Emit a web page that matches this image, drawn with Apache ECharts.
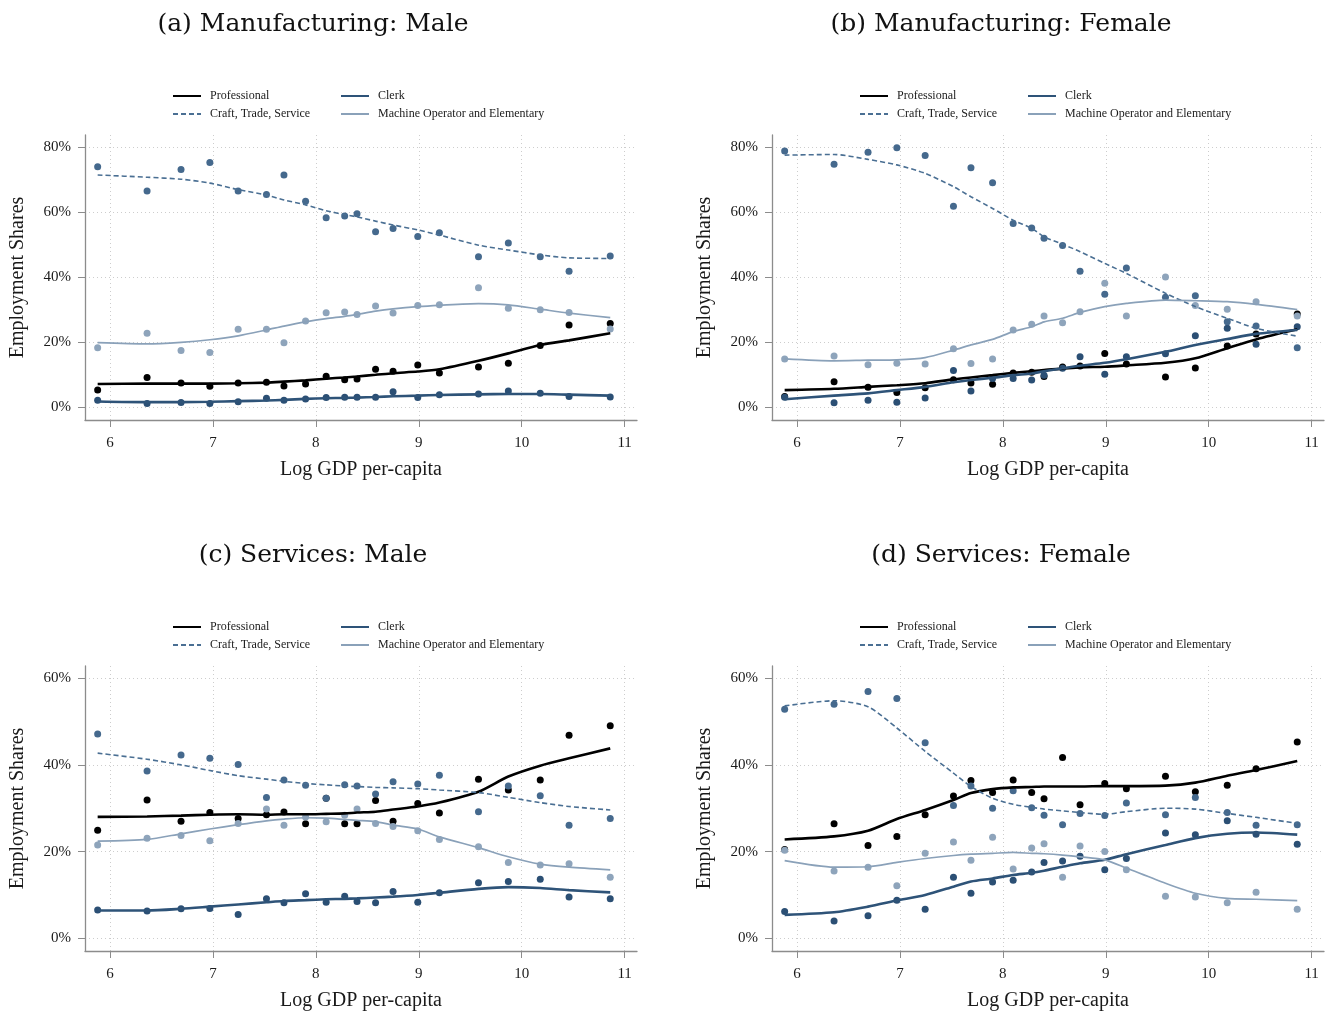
<!DOCTYPE html>
<html>
<head>
<meta charset="utf-8">
<script src="https://cdn.jsdelivr.net/npm/echarts@6/dist/echarts.min.js"></script>
<style>
  html, body { margin: 0; padding: 0; background: #ffffff; }
  #chart { width: 1334px; height: 1012px; }
</style>
</head>
<body>
<div id="chart"></div>
<script>
// Log GDP per-capita bins (shared by all four panels)
const logGdp = [5.88, 6.36, 6.69, 6.97, 7.245, 7.52, 7.69, 7.90, 8.10, 8.28, 8.40, 8.58, 8.75, 8.99, 9.20, 9.58, 9.87, 10.18, 10.46, 10.86];

// Axis ticks
const xTickValues = [6, 7, 8, 9, 10, 11];
const yTicksManufacturing = [0, 20, 40, 60, 80];
const yTicksServices = [0, 20, 40, 60];

// Occupation groups
const occupations = ['Professional', 'Clerk', 'Craft, Trade, Service', 'Machine Operator and Elementary'];

// (a) Manufacturing: Male — employment shares (%) and lowess fits
const mfgMaleProfessional = [5.3, 9.2, 7.5, 6.5, 7.5, 7.7, 6.6, 7.2, 9.6, 8.5, 8.7, 11.7, 11.1, 13.0, 10.6, 12.4, 13.6, 19.0, 25.3, 25.8];
const mfgMaleProfessionalFit = [7.2, 7.3, 7.3, 7.3, 7.4, 7.6, 7.9, 8.3, 8.8, 9.2, 9.5, 10.0, 10.5, 11.0, 11.7, 14.3, 16.6, 19.2, 20.6, 22.8];
const mfgMaleClerk = [2.2, 1.2, 1.5, 1.2, 1.7, 2.8, 2.2, 2.6, 3.0, 3.1, 3.1, 3.1, 4.8, 3.0, 3.9, 4.1, 5.0, 4.3, 3.3, 3.2];
const mfgMaleClerkFit = [1.8, 1.6, 1.6, 1.7, 1.9, 2.1, 2.3, 2.6, 2.8, 2.9, 3.0, 3.2, 3.4, 3.6, 3.8, 4.0, 4.1, 4.1, 3.9, 3.6];
const mfgMaleCraft = [74.0, 66.6, 73.2, 75.3, 66.6, 65.5, 71.5, 63.4, 58.3, 58.9, 59.6, 54.0, 55.0, 52.6, 53.7, 46.3, 50.6, 46.3, 41.9, 46.6];
const mfgMaleCraftFit = [71.5, 70.8, 70.2, 69.0, 67.0, 65.3, 63.8, 62.3, 60.5, 59.3, 58.6, 57.3, 56.1, 54.6, 53.0, 49.9, 48.4, 46.9, 46.0, 45.8];
const mfgMaleMachine = [18.3, 22.8, 17.5, 16.9, 24.0, 24.0, 19.9, 26.6, 29.1, 29.3, 28.6, 31.2, 29.0, 31.3, 31.6, 36.8, 30.5, 30.0, 29.2, 24.1];
const mfgMaleMachineFit = [19.9, 19.5, 20.0, 20.8, 22.0, 23.8, 25.0, 26.3, 27.3, 28.0, 28.6, 29.6, 30.3, 31.0, 31.4, 31.9, 31.5, 30.2, 29.0, 27.6];

// (b) Manufacturing: Female
const mfgFemaleProfessional = [3.3, 7.9, 6.2, 4.6, 6.0, 8.5, 7.5, 7.1, 10.6, 10.8, 9.5, 12.4, 12.7, 16.6, 13.3, 9.3, 12.1, 18.9, 22.6, 28.7];
const mfgFemaleProfessionalFit = [5.3, 5.7, 6.3, 6.8, 7.4, 8.6, 9.2, 9.9, 10.6, 11.1, 11.5, 11.9, 12.3, 12.5, 12.9, 13.7, 15.1, 18.2, 20.9, 24.0];
const mfgFemaleClerk = [3.1, 1.4, 2.2, 1.6, 2.9, 11.3, 5.0, 8.9, 8.9, 8.4, 9.9, 12.0, 15.6, 10.2, 15.6, 16.5, 22.0, 24.3, 19.4, 24.8];
const mfgFemaleClerkFit = [2.5, 3.6, 4.3, 5.3, 6.3, 7.7, 8.4, 9.1, 9.9, 10.4, 11.1, 12.0, 12.8, 13.7, 14.8, 17.1, 19.2, 21.0, 22.6, 23.8];
const mfgFemaleCraft = [78.9, 74.8, 78.5, 79.9, 77.5, 61.9, 73.7, 69.1, 56.6, 55.2, 52.0, 49.8, 41.9, 34.8, 42.9, 33.9, 34.3, 26.3, 25.0, 18.3];
const mfgFemaleCraftFit = [77.6, 77.8, 76.3, 74.6, 72.0, 67.9, 64.8, 61.2, 57.6, 55.1, 52.5, 50.2, 47.9, 44.3, 41.2, 35.1, 31.0, 27.4, 24.3, 21.9];
const mfgFemaleMachine = [14.9, 15.8, 13.1, 13.6, 13.3, 18.0, 13.5, 14.9, 23.8, 25.6, 28.1, 26.0, 29.4, 38.2, 28.1, 40.1, 31.3, 30.2, 32.5, 28.1];
const mfgFemaleMachineFit = [14.9, 14.3, 14.5, 14.6, 15.3, 17.6, 19.2, 20.9, 23.3, 24.8, 26.3, 27.4, 29.2, 31.0, 32.0, 33.0, 32.8, 32.5, 31.7, 30.1];

// (c) Services: Male
const svcMaleProfessional = [24.9, 31.9, 27.0, 29.0, 27.6, 28.5, 29.1, 26.4, 32.3, 26.4, 26.4, 31.8, 27.0, 31.1, 28.9, 36.7, 34.2, 36.5, 46.8, 49.0];
const svcMaleProfessionalFit = [28.0, 28.1, 28.3, 28.5, 28.6, 28.5, 28.6, 28.6, 28.7, 28.8, 29.0, 29.2, 29.7, 30.4, 31.3, 33.8, 37.3, 39.8, 41.5, 43.8];
const svcMaleClerk = [6.5, 6.3, 6.8, 6.9, 5.5, 9.1, 8.2, 10.3, 8.3, 9.7, 8.5, 8.2, 10.8, 8.3, 10.5, 12.8, 13.1, 13.6, 9.5, 9.1];
const svcMaleClerkFit = [6.4, 6.4, 6.8, 7.3, 7.8, 8.3, 8.6, 8.8, 9.0, 9.1, 9.2, 9.4, 9.6, 10.0, 10.5, 11.4, 11.8, 11.6, 11.1, 10.6];
const svcMaleCraft = [47.1, 38.6, 42.3, 41.5, 40.1, 32.5, 36.5, 35.3, 32.3, 35.4, 35.1, 33.3, 36.1, 35.6, 37.6, 29.2, 35.1, 32.9, 26.1, 27.6];
const svcMaleCraftFit = [42.7, 41.3, 40.0, 38.7, 37.5, 36.7, 36.2, 35.7, 35.4, 35.1, 35.0, 34.8, 34.7, 34.5, 34.2, 33.6, 32.5, 31.3, 30.4, 29.6];
const svcMaleMachine = [21.5, 23.1, 23.7, 22.5, 26.5, 29.8, 26.1, 28.0, 26.9, 28.4, 29.8, 26.5, 25.8, 24.8, 22.8, 21.1, 17.5, 16.9, 17.2, 14.1];
const svcMaleMachineFit = [22.4, 22.8, 24.1, 25.2, 26.2, 27.1, 27.5, 27.8, 27.7, 27.4, 27.2, 26.9, 26.1, 25.2, 23.4, 20.9, 18.8, 17.1, 16.4, 15.8];

// (d) Services: Female
const svcFemaleProfessional = [20.5, 26.4, 21.4, 23.5, 28.5, 32.8, 36.4, 33.6, 36.5, 33.6, 32.2, 41.7, 30.8, 35.7, 34.5, 37.4, 33.8, 35.3, 39.1, 45.3];
const svcFemaleProfessionalFit = [22.8, 23.5, 24.8, 27.5, 29.6, 31.9, 33.5, 34.4, 34.8, 34.9, 35.0, 35.0, 35.0, 35.1, 35.1, 35.2, 35.9, 37.5, 38.8, 40.9];
const svcFemaleClerk = [6.2, 4.0, 5.2, 8.8, 6.7, 14.1, 10.4, 13.0, 13.4, 15.3, 17.5, 17.8, 18.9, 15.8, 18.4, 24.3, 23.9, 27.1, 24.0, 21.7];
const svcFemaleClerkFit = [5.4, 6.0, 7.3, 8.7, 10.0, 11.9, 13.1, 13.8, 14.6, 15.1, 15.6, 16.5, 17.3, 18.1, 19.4, 21.5, 23.1, 24.1, 24.4, 23.9];
const svcFemaleCraft = [52.8, 54.0, 56.9, 55.3, 45.1, 30.6, 35.1, 30.0, 34.0, 30.1, 28.4, 26.2, 28.8, 28.3, 31.2, 28.5, 32.5, 29.0, 26.1, 26.2];
const svcFemaleCraftFit = [53.6, 54.8, 53.4, 48.5, 43.1, 38.1, 35.0, 32.3, 30.9, 30.2, 29.8, 29.4, 29.0, 28.6, 29.2, 30.0, 29.8, 28.8, 27.9, 26.5];
const svcFemaleMachine = [20.3, 15.5, 16.4, 12.1, 19.6, 22.2, 18.0, 23.3, 16.0, 20.8, 21.8, 14.1, 21.3, 20.0, 15.8, 9.7, 9.5, 8.2, 10.6, 6.7];
const svcFemaleMachineFit = [17.9, 16.4, 16.5, 17.5, 18.4, 19.1, 19.4, 19.6, 19.8, 19.6, 19.5, 19.2, 18.8, 18.1, 16.2, 12.7, 10.4, 9.2, 9.0, 8.7];

// Panel definitions
const panels = [
  { title: '(a) Manufacturing: Male', yTicks: yTicksManufacturing,
    obs: [mfgMaleProfessional, mfgMaleClerk, mfgMaleCraft, mfgMaleMachine],
    fit: [mfgMaleProfessionalFit, mfgMaleClerkFit, mfgMaleCraftFit, mfgMaleMachineFit] },
  { title: '(b) Manufacturing: Female', yTicks: yTicksManufacturing,
    obs: [mfgFemaleProfessional, mfgFemaleClerk, mfgFemaleCraft, mfgFemaleMachine],
    fit: [mfgFemaleProfessionalFit, mfgFemaleClerkFit, mfgFemaleCraftFit, mfgFemaleMachineFit] },
  { title: '(c) Services: Male', yTicks: yTicksServices,
    obs: [svcMaleProfessional, svcMaleClerk, svcMaleCraft, svcMaleMachine],
    fit: [svcMaleProfessionalFit, svcMaleClerkFit, svcMaleCraftFit, svcMaleMachineFit] },
  { title: '(d) Services: Female', yTicks: yTicksServices,
    obs: [svcFemaleProfessional, svcFemaleClerk, svcFemaleCraft, svcFemaleMachine],
    fit: [svcFemaleProfessionalFit, svcFemaleClerkFit, svcFemaleCraftFit, svcFemaleMachineFit] }
];

// Styling
const SERIF = '"Liberation Serif", "Times New Roman", serif';
const TITLE_FONT = '"DejaVu Serif", serif';
const AXIS_COLOR = '#8c8c8c';
const GRID_COLOR = '#cdcdcd';
const dotColors = ['#000000', '#2b4f74', '#45698d', '#8ea4bb'];
const lineStyles = [
  { color: '#000000', width: 2.6, type: 'solid' },
  { color: '#2e5378', width: 2.6, type: 'solid' },
  { color: '#4a6f93', width: 1.6, type: [5, 3] },
  { color: '#8aa1b9', width: 1.7, type: 'solid' }
];

// Layout of the 2x2 panels
const gridBoxes = [
  { left: 85, top: 135 }, { left: 772, top: 135 },
  { left: 85, top: 666 }, { left: 772, top: 666 }
];
const GRID_W = 552, GRID_H = 285;
const X_MIN = 5.757, X_MAX = 11.12;
const yRanges = [[-3.9, 83.8], [-3.9, 83.8], [-2.93, 62.8], [-2.93, 62.8]];
const titleCenters = [[308, 7], [996, 7], [308, 538], [996, 538]];
const legendPos = [[172, 90], [859, 90], [172, 621], [859, 621]];

const pair = (xs, ys) => xs.map((x, i) => [x, ys[i]]);

const option = {
  animation: false,
  backgroundColor: '#ffffff',
  title: [],
  legend: [],
  grid: [],
  xAxis: [],
  yAxis: [],
  series: []
};

panels.forEach((p, k) => {
  option.title.push({
    text: p.title,
    left: titleCenters[k][0], top: titleCenters[k][1],
    textAlign: 'center',
    textStyle: { fontFamily: TITLE_FONT, fontSize: 25, fontWeight: 'normal', color: '#111' }
  });
  option.grid.push({ left: gridBoxes[k].left, top: gridBoxes[k].top, width: GRID_W, height: GRID_H, containLabel: false });
  option.xAxis.push({
    type: 'value', gridIndex: k, min: X_MIN, max: X_MAX,
    name: 'Log GDP per-capita', nameLocation: 'middle', nameGap: 40,
    nameTextStyle: { fontFamily: SERIF, fontSize: 20, color: '#1a1a1a' },
    axisLine: { show: true, onZero: false, lineStyle: { color: AXIS_COLOR, width: 1.3 } },
    axisTick: { show: true, inside: false, length: 7, customValues: xTickValues, lineStyle: { color: AXIS_COLOR } },
    axisLabel: { customValues: xTickValues, margin: 16, fontFamily: SERIF, fontSize: 15, color: '#1a1a1a' },
    splitLine: { show: true, lineStyle: { type: [1, 3], color: GRID_COLOR, width: 1 } }
  });
  option.yAxis.push({
    type: 'value', gridIndex: k, min: yRanges[k][0], max: yRanges[k][1],
    name: 'Employment Shares', nameLocation: 'middle', nameGap: 57, nameRotate: 90,
    nameTextStyle: { fontFamily: SERIF, fontSize: 20, color: '#1a1a1a' },
    axisLine: { show: true, onZero: false, lineStyle: { color: AXIS_COLOR, width: 1.3 } },
    axisTick: { show: true, inside: false, length: 7, customValues: p.yTicks, lineStyle: { color: AXIS_COLOR } },
    axisLabel: { customValues: p.yTicks, margin: 14, fontFamily: SERIF, fontSize: 15, color: '#1a1a1a', formatter: '{value}%' },
    splitLine: { show: true, lineStyle: { type: [1, 3], color: GRID_COLOR, width: 1 } }
  });

  // Observed shares (dots)
  p.obs.forEach((vals, j) => {
    option.series.push({
      type: 'scatter', name: occupations[j] + ' (obs)', xAxisIndex: k, yAxisIndex: k,
      data: pair(logGdp, vals), symbol: 'circle', symbolSize: 7,
      itemStyle: { color: dotColors[j], opacity: 1 }, z: 2
    });
  });
  // Lowess fits (lines)
  p.fit.forEach((vals, j) => {
    option.series.push({
      type: 'line', name: occupations[j], xAxisIndex: k, yAxisIndex: k,
      data: pair(logGdp, vals), symbol: 'none', smooth: 0.25,
      lineStyle: lineStyles[j], itemStyle: { color: lineStyles[j].color }, z: 3
    });
  });

  // Two-column legend showing line keys only
  const legendText = { fontFamily: SERIF, fontSize: 12, color: '#1a1a1a', padding: [0, 0, 0, 4] };
  const legendBase = {
    orient: 'vertical', top: legendPos[k][1],
    itemWidth: 28, itemHeight: 12, itemGap: 6, padding: 0,
    selectedMode: false, textStyle: legendText,
    itemStyle: { opacity: 0, borderWidth: 0 }
  };
  option.legend.push(Object.assign({}, legendBase, {
    left: legendPos[k][0], data: [occupations[0], occupations[2]]
  }));
  option.legend.push(Object.assign({}, legendBase, {
    left: legendPos[k][0] + 168, data: [occupations[1], occupations[3]]
  }));
});

const chart = echarts.init(document.getElementById('chart'), null, { renderer: 'canvas' });
chart.setOption(option);
</script>
</body>
</html>
